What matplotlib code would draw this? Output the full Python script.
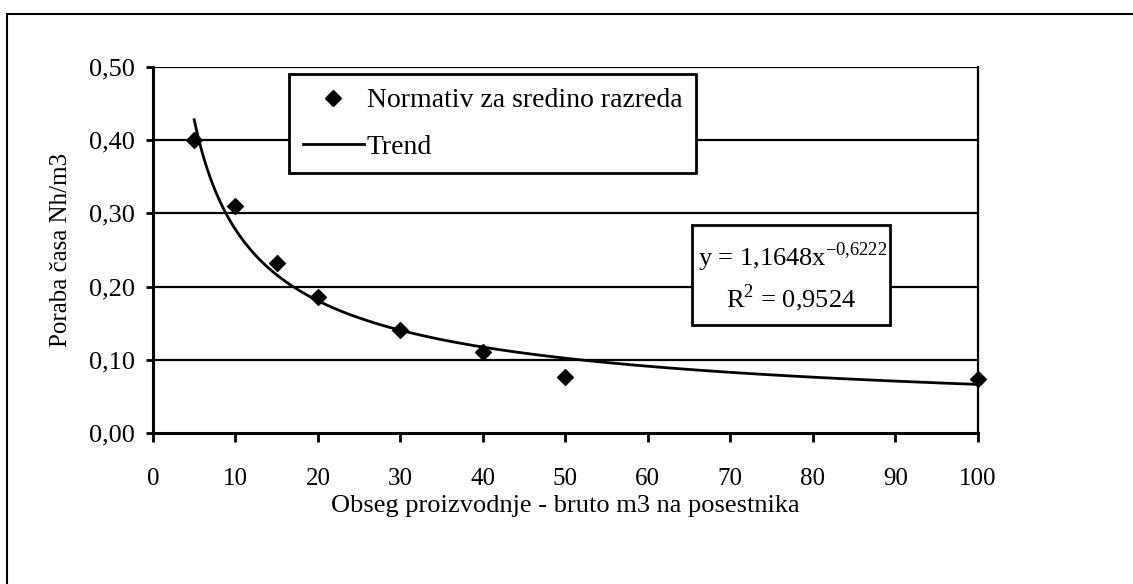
import numpy as np
import matplotlib
matplotlib.use("Agg")
import matplotlib.pyplot as plt
from matplotlib.patches import Rectangle
from matplotlib.lines import Line2D

# podatki z grafa
obseg = [5, 10, 15, 20, 30, 40, 50, 100]
normativ = [0.40, 0.31, 0.232, 0.186, 0.140, 0.110, 0.077, 0.074]
# trend iz enacbe na grafu: y = a * x^b
trend_a = 1.1648
trend_b = -0.6222
r2 = 0.9524
x_ticks = [0, 10, 20, 30, 40, 50, 60, 70, 80, 90, 100]
y_ticks = [0.0, 0.1, 0.2, 0.3, 0.4, 0.5]
y_labels = ["0,00", "0,10", "0,20", "0,30", "0,40", "0,50"]

plt.rcParams["font.family"] = ["Liberation Serif", "DejaVu Serif"]
plt.rcParams["mathtext.fontset"] = "custom"
plt.rcParams["mathtext.rm"] = "Liberation Serif"

fig = plt.figure(figsize=(11.33, 5.84), dpi=100)
ax = fig.add_axes([0.135, 0.2586, 0.728, 0.6267])

# okvir slike
fig.add_artist(Rectangle((7 / 1133, -0.1), 1.2, 1 - 14 / 584 + 0.1,
                         transform=fig.transFigure, fill=False,
                         edgecolor="black", linewidth=1.5))

for yv in y_ticks[1:]:
    ax.axhline(yv, color="black", linewidth=1.6, zorder=1)

xs = np.linspace(min(obseg), max(obseg), 300)
ax.plot(xs, trend_a * xs ** trend_b, color="black", linewidth=2, zorder=3)
ax.scatter(obseg, normativ, marker="D", s=65, color="black", zorder=4,
           clip_on=False)

ax.set_xlim(0, 100)
ax.set_ylim(0, 0.5)
ax.set_xticks(x_ticks)
ax.set_yticks(y_ticks)
ax.set_yticklabels(y_labels)
ax.tick_params(axis="x", direction="out", length=6.5, width=2, labelsize=18,
               pad=19, colors="black")
ax.tick_params(axis="y", direction="out", length=5, width=2, labelsize=19,
               pad=8, colors="black")

ax.spines["top"].set_visible(False)
ax.spines["left"].set_linewidth(2.2)
ax.spines["bottom"].set_linewidth(2.2)
ax.spines["right"].set_linewidth(1.6)

ax.set_xlabel("Obseg proizvodnje - bruto m3 na posestnika", fontsize=19,
              labelpad=3)
ax.set_ylabel("Poraba časa Nh/m3", fontsize=18, labelpad=12)

# legenda
handles = [
    Line2D([], [], marker="D", linestyle="none", color="black", markersize=8),
    Line2D([], [], color="black", linewidth=2),
]
leg = ax.legend(handles, ["Normativ za sredino razreda", "Trend"],
                loc="upper left", bbox_to_anchor=(0.165, 0.981), fontsize=20,
                frameon=True, fancybox=False, borderpad=0.5,
                labelspacing=0.75, handlelength=2.2, handletextpad=0.1,
                borderaxespad=0)
leg.get_frame().set_edgecolor("black")
leg.get_frame().set_linewidth(2)
leg.get_frame().set_alpha(1)
leg.set_zorder(5)

# enacba trenda
ax.add_patch(Rectangle((0.653, 0.295), 0.24, 0.273, transform=ax.transAxes,
                       facecolor="white", edgecolor="black", linewidth=2,
                       zorder=5))
ax.text(0.775, 0.481, "y = 1,1648x$^{-0{,}6222}$", transform=ax.transAxes,
        ha="center", va="center", fontsize=19, zorder=6)
ax.text(0.773, 0.369, "R$^{2}$ = 0,9524", transform=ax.transAxes,
        ha="center", va="center", fontsize=19, zorder=6)

fig.savefig("out.png", dpi=100)
